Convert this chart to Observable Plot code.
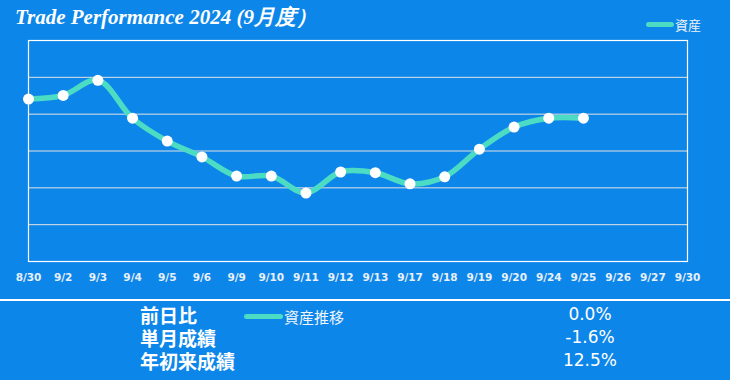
<!DOCTYPE html>
<html>
<head>
<meta charset="utf-8">
<script src="https://cdn.jsdelivr.net/npm/d3@7"></script>
<script src="https://cdn.jsdelivr.net/npm/@observablehq/plot@0.6"></script>
<style>
  html, body { margin: 0; padding: 0; }
  body { width: 730px; height: 380px; background: #0d86ea; position: relative; overflow: hidden; font-family: "DejaVu Sans", sans-serif; }
  #chart { position: absolute; left: 0; top: 0; }
  .title { position: absolute; left: 15px; top: 7px; font-family: "Liberation Serif", serif; font-style: italic; font-weight: bold; font-size: 21px; line-height: 21px; color: #fff; white-space: nowrap; }
  .legend { position: absolute; display: flex; align-items: center; color: #eef4fb; white-space: nowrap; font-family: "Noto Sans CJK JP", sans-serif; }
  .sw { display: inline-block; background: #4cdcc4; border-radius: 3px; }
  .sep { position: absolute; left: 0; top: 299px; width: 730px; height: 2px; background: #fff; }
  .lab { position: absolute; left: 140px; top: 303px; font-family: "Noto Sans CJK JP", sans-serif; font-weight: bold; font-size: 19px; line-height: 23px; color: #fff; white-space: nowrap; }
  .val { position: absolute; left: 540px; top: 303px; width: 100px; text-align: center; font-family: "DejaVu Sans", sans-serif; font-size: 17px; line-height: 23px; color: #fff; }
</style>
</head>
<body>
<div id="chart"></div>
<script>
const title = "Trade Performance 2024 (9月度）";
const seriesName = "資産";
const dates = ["8/30","9/2","9/3","9/4","9/5","9/6","9/9","9/10","9/11","9/12","9/13","9/17","9/18","9/19","9/20","9/24","9/25","9/26","9/27","9/30"];
const assets = [4.41, 4.51, 4.92, 3.89, 3.27, 2.84, 2.32, 2.32, 1.86, 2.43, 2.41, 2.11, 2.30, 3.05, 3.65, 3.89, 3.89, null, null, null];
const gridValues = [1, 2, 3, 4, 5];
const statLabels = ["前日比", "単月成績", "年初来成績"];
const statValues = ["0.0%", "-1.6%", "12.5%"];
const bottomLegend = "資産推移";

const data = dates.map((d, i) => ({i, date: d, value: assets[i]}));
const idx = dates.map((d, i) => i);

const plot = Plot.plot({
  width: 730,
  height: 300,
  marginTop: 40,
  marginLeft: 28,
  marginRight: 43,
  marginBottom: 39,
  style: {background: "transparent", color: "#e8f0fa", fontFamily: "DejaVu Sans", fontSize: "10.5px", fontWeight: "bold"},
  x: {type: "linear", domain: [0, dates.length - 1], label: null},
  y: {domain: [0, 6], axis: null},
  marks: [
    Plot.ruleY(gridValues, {stroke: "#e2e2e2", strokeWidth: 1, strokeOpacity: 1}),
    Plot.frame({stroke: "#ffffff", strokeWidth: 1.2}),
    Plot.axisX(idx, {tickSize: 0, tickPadding: 12, tickFormat: i => dates[i], fill: "#e8f0fa", fontWeight: "bold", fontSize: 10.5}),
    Plot.line(data, {x: "i", y: "value", stroke: "#4cdcc4", strokeWidth: 5.5, curve: "catmull-rom"}),
    Plot.dot(data.filter(d => d.value != null), {x: "i", y: "value", r: 5.5, fill: "#ffffff", stroke: null})
  ]
});
document.getElementById("chart").appendChild(plot);

function add(html) { document.body.insertAdjacentHTML("beforeend", html); }
add(`<div class="title">${title}</div>`);
add(`<div class="legend" style="left:646px;top:15px;height:18px;font-size:13px;"><span class="sw" style="width:28px;height:5px;margin-right:1px;"></span>${seriesName}</div>`);
add(`<div class="sep"></div>`);
add(`<div class="lab">${statLabels.join("<br>")}</div>`);
add(`<div class="val">${statValues.join("<br>")}</div>`);
add(`<div class="legend" style="left:244px;top:306px;height:20px;font-size:15px;"><span class="sw" style="width:39px;height:5px;margin-right:1px;"></span>${bottomLegend}</div>`);
</script>
</body>
</html>
